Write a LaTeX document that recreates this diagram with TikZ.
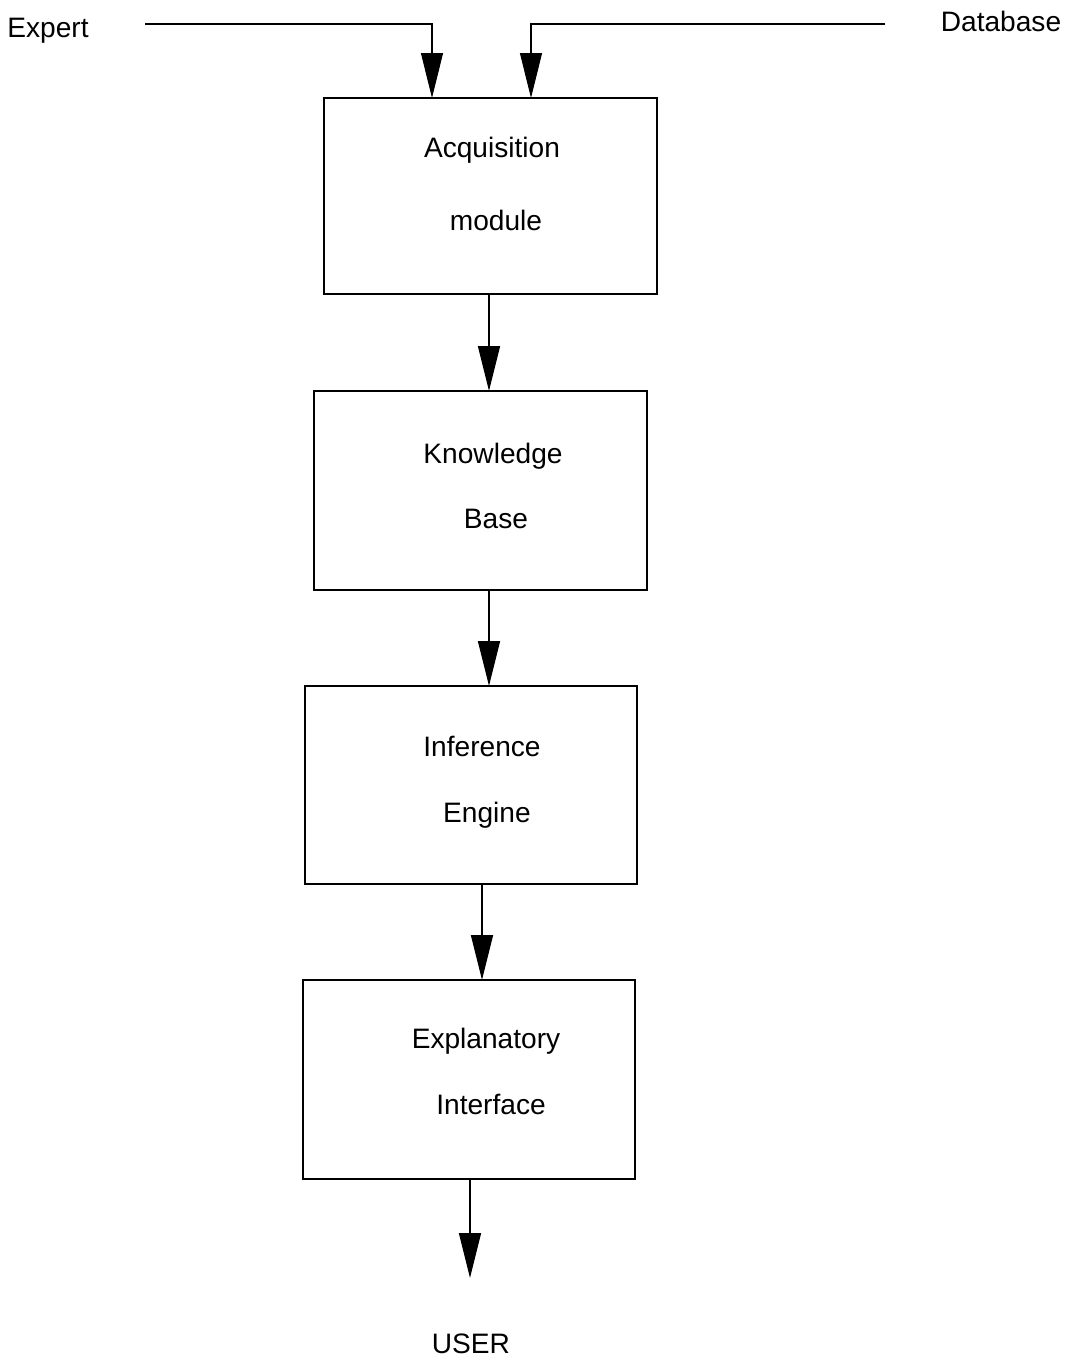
\documentclass[tikz,border=0pt]{standalone}
\usepackage{fontspec}
\setmainfont{Liberation Sans}
\usetikzlibrary{arrows.meta}
\begin{document}
\begin{tikzpicture}[x=0.02cm,y=-0.02cm,
  box/.style={draw,line width=1.1pt,inner sep=0pt,outer sep=0pt},
  lbl/.style={font=\fontsize{16}{19}\selectfont,inner sep=0pt},
  arr/.style={line width=0.8pt,-{Triangle[length=0.9cm,width=0.44cm]}},
  feed/.style={line width=0.6pt,-{Triangle[length=0.9cm,width=0.44cm]}}]
\useasboundingbox (0,0) rectangle (1075,1360);
% boxes
\node[box,minimum width=6.66cm,minimum height=3.92cm] (acq) at (490.5,196) {};
\node[box,minimum width=6.66cm,minimum height=3.98cm] (kb) at (480.5,490.5) {};
\node[box,minimum width=6.64cm,minimum height=3.96cm] (inf) at (471,785) {};
\node[box,minimum width=6.64cm,minimum height=3.98cm] (exp) at (469,1079.5) {};
% labels
\node[lbl] (acq1) at (492,150) {Acquisition};
\node[lbl] (acq2) at (496,220) {module};
\node[lbl] (kb1) at (493,456) {Knowledge};
\node[lbl] (kb2) at (496,519) {Base};
\node[lbl] (inf1) at (482,746) {Inference};
\node[lbl] (inf2) at (487,815) {Engine};
\node[lbl] (exp1) at (486,1041) {Explanatory};
\node[lbl] (exp2) at (491,1104) {Interface};
\node[lbl] (expert) at (48,31) {Expert};
\node[lbl] (db) at (1001,21) {Database};
\node[lbl] (user) at (471,1344) {USER};
% helper coordinates
\coordinate (e0) at (145,24);
\coordinate (e1) at (432,24);
\coordinate (d0) at (885,24);
\coordinate (d1) at (531,24);
\coordinate (a1) at (489,0);
\coordinate (a2) at (489,0);
\coordinate (a3) at (482,0);
\coordinate (a4) at (470,0);
\coordinate (uend) at (470,1278);
% connectors
\draw[feed] (e0) -- (e1) -- (e1 |- acq.north);
\draw[feed] (d0) -- (d1) -- (d1 |- acq.north);
\draw[arr] (acq.south -| a1) -- (kb.north -| a1);
\draw[arr] (kb.south -| a2) -- (inf.north -| a2);
\draw[arr] (inf.south -| a3) -- (exp.north -| a3);
\draw[arr] (exp.south -| a4) -- (uend);
\end{tikzpicture}
\end{document}
